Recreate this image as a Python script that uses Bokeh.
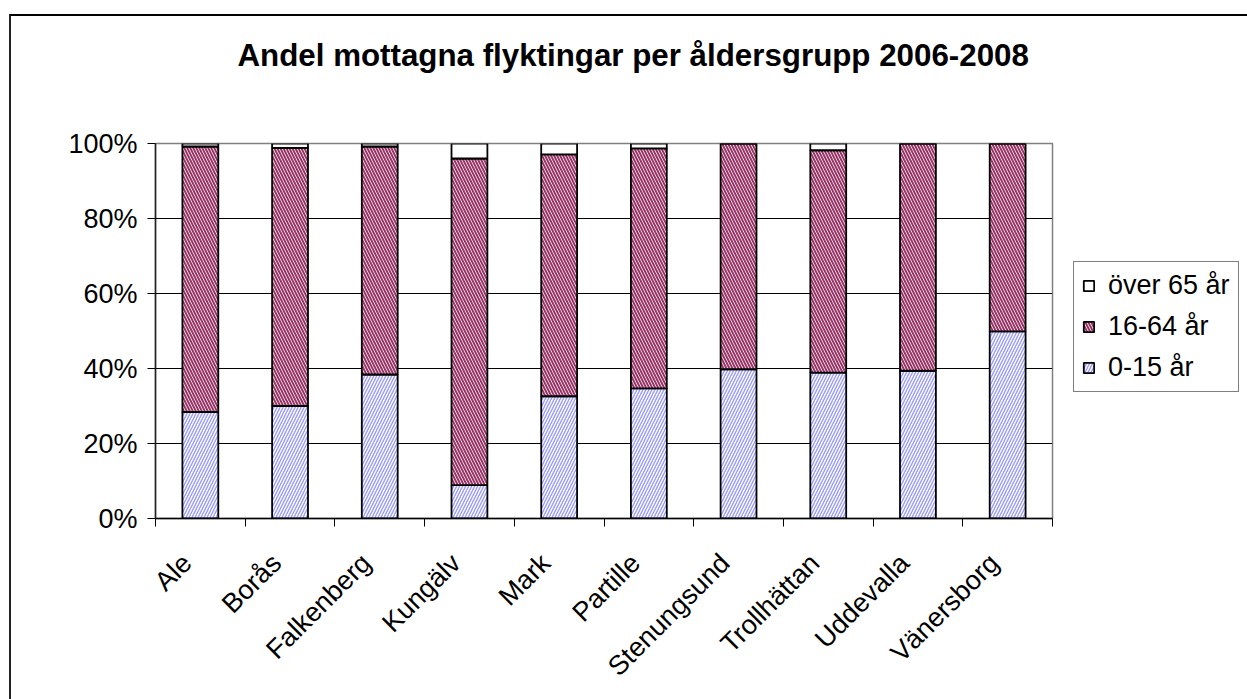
from bokeh.plotting import figure
from bokeh.models import Range1d, FixedTicker, Legend, LegendItem, PrintfTickFormatter, Title
from bokeh.embed import file_html
from bokeh.resources import INLINE
import math

# ---- data (percent of received refugees per age group) ----
kommuner = ["Ale", "Borås", "Falkenberg", "Kungälv", "Mark", "Partille",
            "Stenungsund", "Trollhättan", "Uddevalla", "Vänersborg"]
age_0_15 = [28.4, 30.0, 38.4, 8.9, 32.6, 34.7, 39.8, 38.9, 39.4, 49.9]
age_16_64 = [70.8, 68.8, 60.8, 87.1, 64.5, 64.0, 60.2, 59.3, 60.6, 50.1]
age_65_plus = [0.8, 1.2, 0.8, 4.0, 2.9, 1.3, 0.0, 1.8, 0.0, 0.0]
series_labels = ["0-15 år", "16-64 år", "över 65 år"]
y_ticks = [0, 20, 40, 60, 80, 100]
title_text = "Andel mottagna flyktingar per åldersgrupp 2006-2008"

FONT = "Liberation Sans"

n = len(kommuner)
centers = [i + 0.5 for i in range(n)]
bounds = list(range(n + 1))
label_pos = [round(c - 0.15, 2) for c in centers]   # label anchors (slightly left, as in Excel)

data = dict(x=centers, a=age_0_15, b=age_16_64, c=age_65_plus)

p = figure(frame_width=897, frame_height=375, x_range=Range1d(0, n), y_range=Range1d(0, 100),
           output_backend="svg", toolbar_location=None, title=None,
           min_border_left=144, min_border_right=195, min_border_bottom=181,
           min_border_top=127)
p.styles = {"margin-left": "9px", "margin-top": "14px",
            "border-left": "2px solid #222", "border-top": "2px solid #000"}

# spacer between frame and title, then the title itself
spacer = Title(text=" ", text_font=FONT, text_font_size="10px", standoff=51)
p.add_layout(spacer, "above")
main_title = Title(text=title_text, text_font=FONT, text_font_size="31.3px",
                   text_font_style="bold", text_color="black", align="left",
                   offset=82, vertical_align="top", standoff=10)
p.add_layout(main_title, "above")

renderers = p.vbar_stack(["a", "b", "c"], x="x", width=0.4, source=data,
                         fill_color=["white", "white", "white"],
                         hatch_color=["#9999FF", "#993366", None],
                         hatch_pattern=["/", "\\", " "],
                         hatch_scale=[6, 6, 5],
                         hatch_weight=[1.4, 2.0, 1.0],
                         line_color="black", line_width=1.8)

legend = Legend(items=[LegendItem(label=series_labels[2], renderers=[renderers[2]]),
                       LegendItem(label=series_labels[1], renderers=[renderers[1]]),
                       LegendItem(label=series_labels[0], renderers=[renderers[0]])],
                location=(21, 126))
legend.label_text_font = FONT
legend.label_text_font_size = "27px"
legend.label_text_color = "black"
legend.label_height = 30
legend.glyph_height = 13
legend.glyph_width = 13
legend.spacing = 10
legend.padding = 8
legend.margin = 0
legend.label_standoff = 13
legend.border_line_color = "black"
legend.border_line_width = 1
legend.background_fill_color = "white"
p.add_layout(legend, "right")

# axes
p.outline_line_color = "#808080"
p.outline_line_width = 1.5

p.yaxis.ticker = FixedTicker(ticks=y_ticks)
p.yaxis.formatter = PrintfTickFormatter(format="%d%%")
p.yaxis.major_label_text_font = FONT
p.yaxis.major_label_text_font_size = "27px"
p.yaxis.major_label_text_color = "black"
p.yaxis.major_tick_out = 8
p.yaxis.major_tick_in = 0
p.yaxis.minor_tick_line_color = None
p.yaxis.major_tick_line_color = "black"
p.yaxis.axis_line_color = "#222"
p.yaxis.axis_line_width = 1.5
p.yaxis.major_label_standoff = 10

p.xaxis.ticker = FixedTicker(ticks=label_pos, minor_ticks=bounds)
p.xaxis.major_label_overrides = {lp: k for lp, k in zip(label_pos, kommuner)}
p.xaxis.major_label_orientation = math.pi / 4
p.xaxis.major_label_text_font = FONT
p.xaxis.major_label_text_font_size = "27px"
p.xaxis.major_label_text_color = "black"
p.xaxis.major_tick_line_color = None
p.xaxis.major_tick_out = 0
p.xaxis.minor_tick_line_color = "black"
p.xaxis.minor_tick_out = 8
p.xaxis.minor_tick_in = 0
p.xaxis.axis_line_color = "black"
p.xaxis.axis_line_width = 1.5
p.xaxis.major_label_standoff = 32

p.xgrid.grid_line_color = None
p.ygrid.ticker = FixedTicker(ticks=y_ticks[1:-1])
p.ygrid.grid_line_color = "black"
p.ygrid.grid_line_width = 1

open("out.html", "w").write(file_html(p, INLINE))
